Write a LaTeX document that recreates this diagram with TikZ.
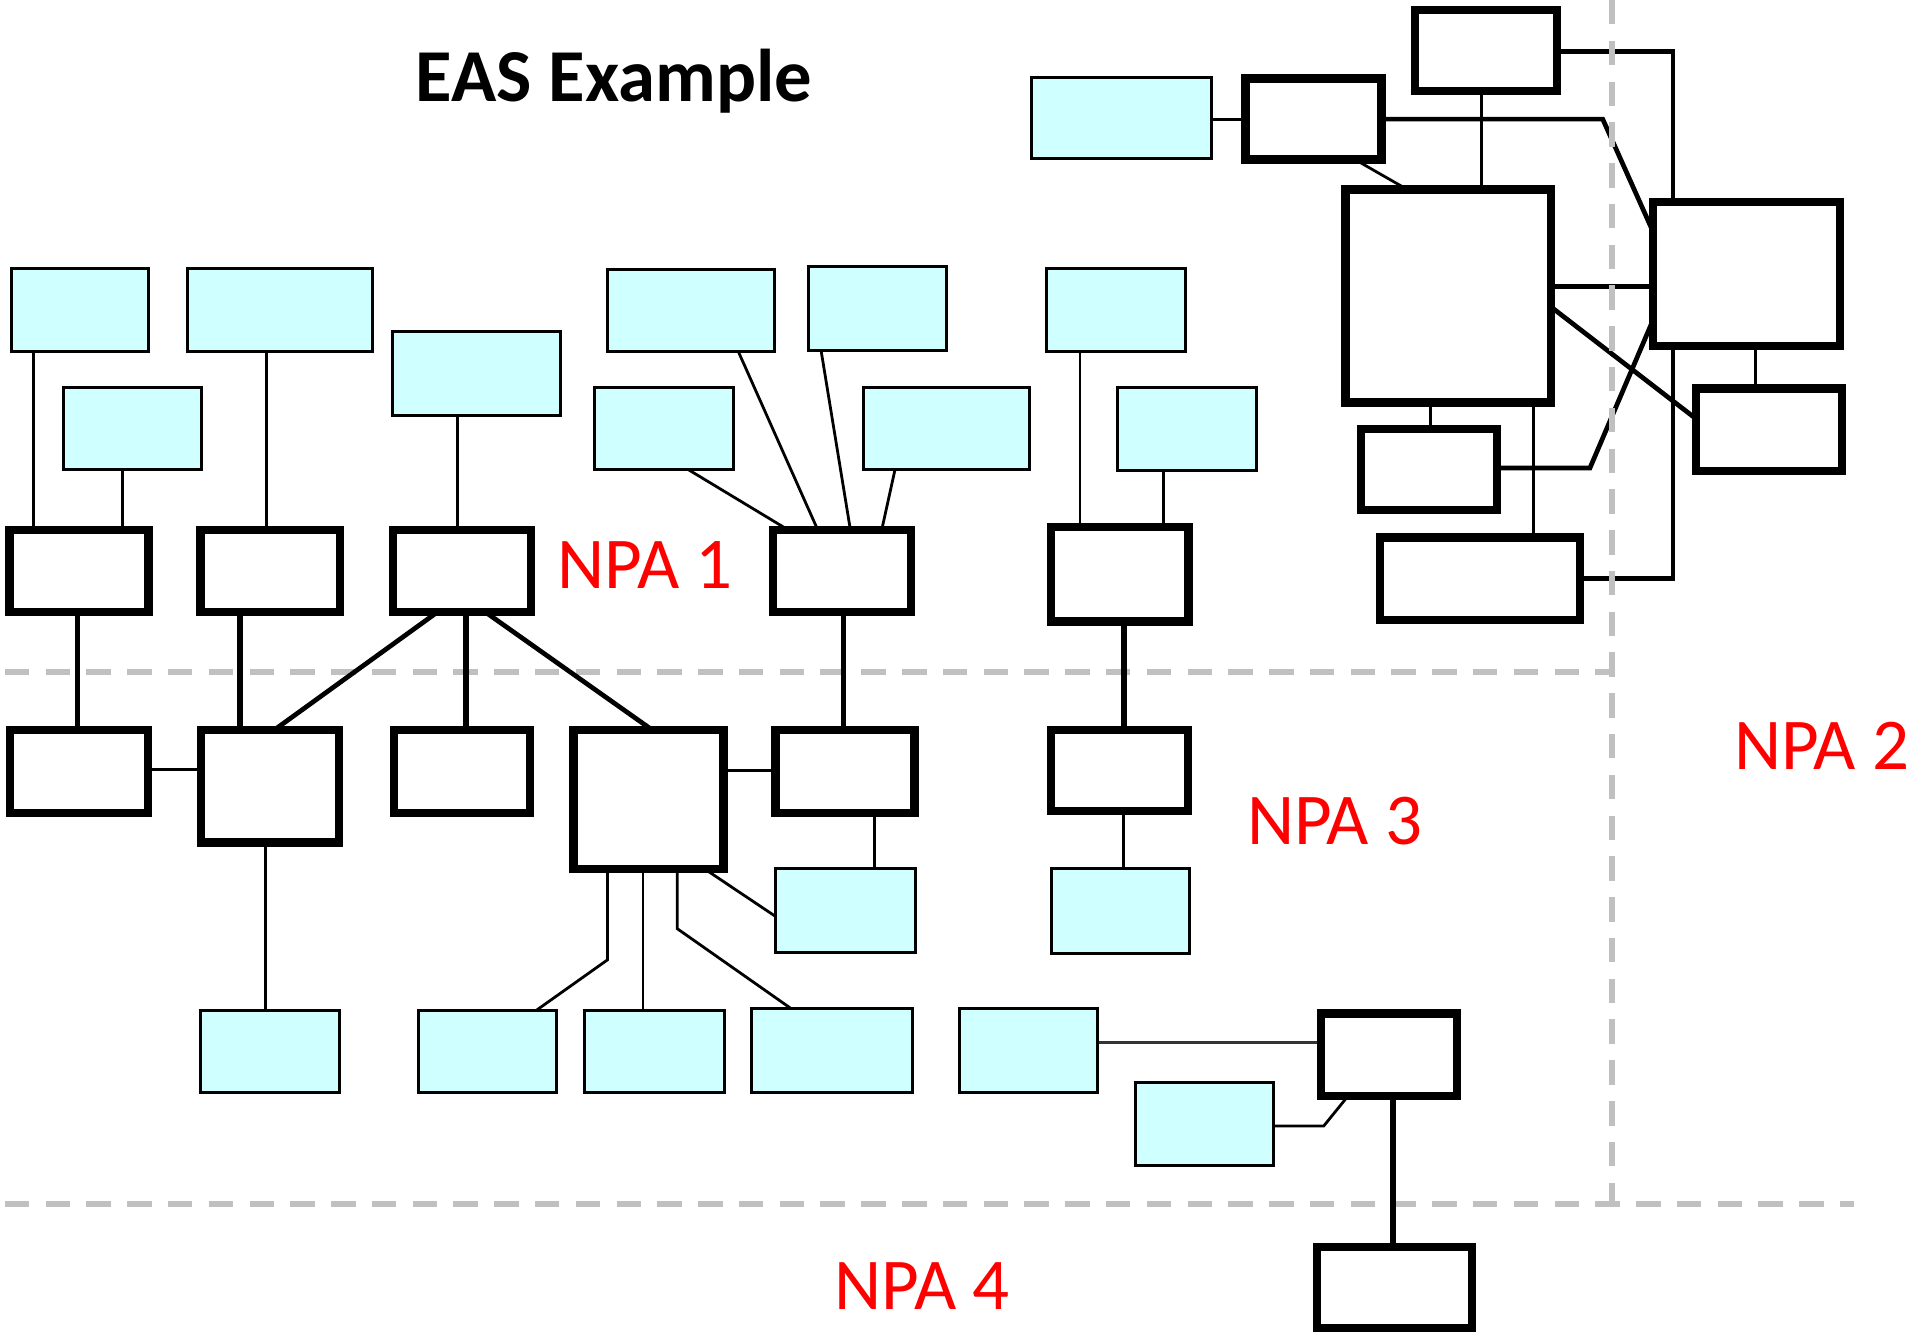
\documentclass[tikz,border=0pt]{standalone}
\usepackage{fontspec}
\newfontfamily\carlito{Carlito}
\usetikzlibrary{fit}
\definecolor{cyanfill}{RGB}{208,255,255}
\definecolor{dashgray}{RGB}{192,192,192}
\pgfdeclarelayer{bg}
\pgfsetlayers{bg,main}
\tikzset{
  bbox/.style={draw=black, fill=white, line width=1.9pt, inner sep=0pt, outer sep=0pt},
  cbox/.style={draw=black, fill=cyanfill, line width=0.7pt, inner sep=0pt, outer sep=0pt},
  thinc/.style={line width=0.65pt},
  medc/.style={line width=1.1pt},
  thickc/.style={line width=1.45pt},
  zone/.style={draw=dashgray, line width=1.4pt, dash pattern=on 5.7pt off 3.8pt},
  npa/.style={text=red, font=\carlito\fontsize{17}{20}\selectfont, anchor=base west, inner sep=0pt},
  ttl/.style={font=\carlito\bfseries\fontsize{17.4}{20}\selectfont, anchor=base west, inner sep=0pt},
}
\newcommand\bbx[5]{\node[bbox, fit={(#2+3.3,#3+3.3) (#4-3.3,#5-3.3)}] (#1) {};}
\newcommand\cbx[5]{\node[cbox, fit={(#2+1.2,#3+1.2) (#4-1.2,#5-1.2)}] (#1) {};}
\begin{document}
\begin{tikzpicture}[x=0.01cm, y=-0.01cm]
\useasboundingbox (0,0) rectangle (1568,1092);

% title and labels
\node[ttl] (title) at (340,83) {EAS Example};
\node[npa] (npa1) at (456,482) {NPA 1};
\node[npa] (npa2) at (1420,630) {NPA 2};
\node[npa] (npa3) at (1021,691.5) {NPA 3};
\node[npa] (npa4) at (683,1073) {NPA 4};

% cyan boxes
\cbx{c1}{8}{218.5}{123}{289.5}
\cbx{c2}{152}{218.5}{306.5}{289.5}
\cbx{c3}{51}{316}{166.5}{386}
\cbx{c4}{320.5}{270.5}{460}{341.5}
\cbx{c5}{496.5}{219.5}{635.5}{289.5}
\cbx{c6}{661.5}{217}{777}{288}
\cbx{c7}{485.5}{316}{602.5}{386}
\cbx{c8}{706.5}{316}{844.5}{386}
\cbx{c9}{856}{218.5}{972}{289}
\cbx{c10}{914.5}{316.5}{1030.5}{386.5}
\cbx{c11}{844}{62}{994}{131}
\cbx{c12}{634.5}{710.5}{751}{781.5}
\cbx{c13}{860}{710.5}{975.5}{782}
\cbx{c14}{163}{826.5}{279.5}{896.5}
\cbx{c15}{342}{826.5}{457}{896.5}
\cbx{c16}{477.5}{826.5}{594.5}{896.5}
\cbx{c17}{614.5}{825}{748.5}{896.5}
\cbx{c18}{785}{825}{900}{896}
\cbx{c19}{929}{886}{1044.5}{956}

% black boxes
\bbx{b1}{4.5}{431}{125}{505}
\bbx{b2}{161}{431}{281.5}{505}
\bbx{b3}{319}{431}{438}{505}
\bbx{b4}{630}{431}{749.5}{505}
\bbx{b5}{857.5}{428.5}{977}{512.5}
\bbx{b6}{5}{594.5}{124.5}{669}
\bbx{b7}{161.5}{594.5}{281}{693.5}
\bbx{b8}{319.5}{594.5}{437.5}{669}
\bbx{b9}{466.5}{594.5}{596}{715}
\bbx{b10}{632}{594.5}{752.5}{669}
\bbx{b11}{858}{595}{976.5}{668}
\bbx{b12}{1079}{827}{1197}{901}
\bbx{b13}{1075.5}{1018}{1209}{1091}
\bbx{t1}{1156}{5}{1279}{78}
\bbx{t2}{1017}{61}{1135}{134}
\bbx{t3}{1099}{152}{1274}{333}
\bbx{t4}{1351}{162}{1511}{287}
\bbx{t5}{1386}{315}{1512}{389}
\bbx{t6}{1112}{348}{1230}{421}
\bbx{t7}{1127}{437}{1298}{511}

\begin{pgfonlayer}{bg}
\fill[white] (0,0) rectangle (1568,1092);
% zone borders (horizontal)
\draw[zone] (4,550.5) -- (1318,550.5);
\draw[zone] (4,986.5) -- (1519,986.5);

% left group
\draw[thinc] (c1.south -| 27.6,0) -- (b1.north -| 27.6,0);
\draw[thinc] (c3.south -| 100.3,0) -- (b1.north -| 100.3,0);
\draw[thinc] (c2.south -| 218,0) -- (b2.north -| 218,0);
\draw[thinc] (c4.south -| 374.6,0) -- (b3.north -| 374.6,0);
\draw[medc] (b1.south -| 63.6,0) -- (b6.north -| 63.6,0);
\draw[thickc] (b2.south -| 196.6,0) -- (b7.north -| 196.6,0);
\draw[thickc] (b3.south -| 381.5,0) -- (b8.north -| 381.5,0);
\draw[medc] (b3.south -| 358,0) -- (b7.north -| 225,0);
\draw[medc] (b3.south -| 398,0) -- (b9.north -| 534,0);
\draw[thinc] (b6.east |- 0,630.2) -- (b7.west |- 0,630.2);
\draw[thinc] (b7.south -| 217.7,0) -- (c14.north -| 217.7,0);
\draw[thinc] (b9.east |- 0,631.3) -- (b10.west |- 0,631.3);
\coordinate (k1) at (497.6,786.4);
\coordinate (k2) at (554.8,760.8);
\draw[thinc] (b9.south -| k1) -- (k1) -- (c15.north -| 439.4,0);
\draw[thinc] (b9.south -| 526.7,0) -- (c16.north -| 526.7,0);
\draw[thinc] (b9.south -| k2) -- (k2) -- (c17.north -| 648,0);
\draw[thinc] (b9.south -| 577,0) -- (c12.west |- 0,751);
\draw[thinc] (b10.south -| 716.4,0) -- (c12.north -| 716.4,0);
\draw[medc] (b4.south -| 690.8,0) -- (b10.north -| 690.8,0);
\draw[thinc] (c7.south -| 564,0) -- (b4.north -| 646,0);
\draw[thinc] (c5.south -| 605,0) -- (b4.north -| 670,0);
\draw[thinc] (c6.south -| 672.6,0) -- (b4.north -| 696.7,0);
\draw[thinc] (c8.south -| 733.2,0) -- (b4.north -| 722.3,0);
\draw[thinc] (c9.south -| 884.7,0) -- (b5.north -| 884.7,0);
\draw[thinc] (c10.south -| 953,0) -- (b5.north -| 953,0);
\draw[thickc] (b5.south -| 920.5,0) -- (b11.north -| 920.5,0);
\draw[thinc] (b11.south -| 920.5,0) -- (c13.north -| 920.5,0);

% bottom right
\draw[thinc, black!80] (c18.east |- 0,854) -- (b12.west |- 0,854);
\coordinate (k3) at (1084.4,922.5);
\draw[thinc] (c19.east |- k3) -- (k3) -- (b12.south -| 1104.5,0);
\draw[thickc] (b12.south -| 1141,0) -- (b13.north -| 1141,0);

% top right
\draw[medc] (t1.east |- 0,42) -| (t4.north -| 1370.6,0);
\draw[thinc] (t1.south -| 1214,0) -- (t3.north -| 1214,0);
\draw[thinc] (c11.east |- 0,97.6) -- (t2.west |- 0,97.6);
\coordinate (k4) at (1313,97.6);
\draw[medc] (t2.east |- k4) -- (k4) -- (t4.west |- 0,190);
\draw[thinc] (t2.south -| 1110,0) -- (t3.north -| 1153,0);
\draw[medc] (t3.east |- 0,234.5) -- (t4.west |- 0,234.5);
\draw[medc] (t3.east |- 0,251.5) -- (t5.west |- 0,343);
\draw[thinc] (t4.south -| 1438,0) -- (t5.north -| 1438,0);
\draw[thinc] (t3.south -| 1172,0) -- (t6.north -| 1172,0);
\draw[thinc] (t3.south -| 1256,0) -- (t7.north -| 1256,0);
\coordinate (k5) at (1302.5,383.5);
\draw[medc] (t6.east |- k5) -- (k5) -- (t4.west |- 0,262);
\draw[medc] (t4.south -| 1370.6,0) |- (t7.east |- 0,474);

% zone border (vertical)
\draw[zone] (1320.6,0) -- (1320.6,986.5);
\end{pgfonlayer}
\end{tikzpicture}
\end{document}
